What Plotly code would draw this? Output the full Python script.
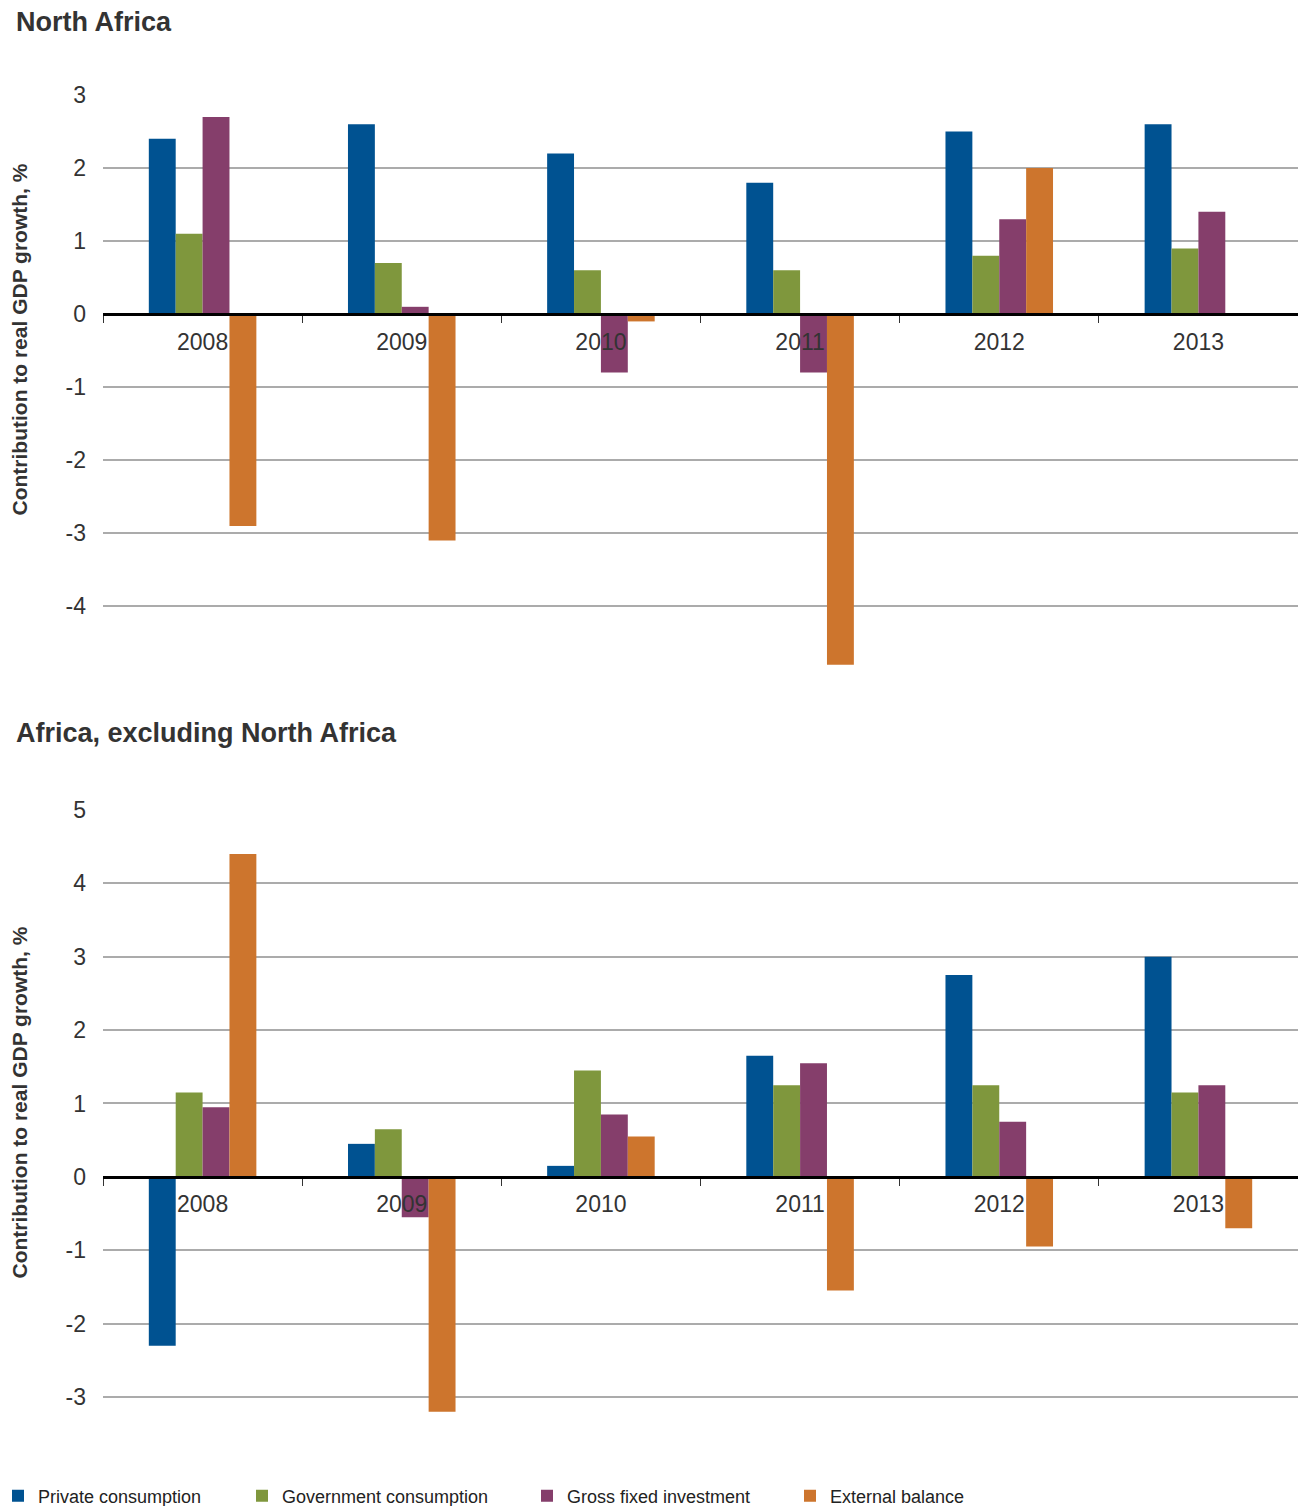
import plotly.graph_objects as go

years = ["2008", "2009", "2010", "2011", "2012", "2013"]
series_names = ["Private consumption", "Government consumption",
                "Gross fixed investment", "External balance"]

# North Africa
na_private = [2.4, 2.6, 2.2, 1.8, 2.5, 2.6]
na_government = [1.1, 0.7, 0.6, 0.6, 0.8, 0.9]
na_investment = [2.7, 0.1, -0.8, -0.8, 1.3, 1.4]
na_external = [-2.9, -3.1, -0.1, -4.8, 2.0, 0.0]

# Africa, excluding North Africa
ss_private = [-2.3, 0.45, 0.15, 1.65, 2.75, 3.0]
ss_government = [1.15, 0.65, 1.45, 1.25, 1.25, 1.15]
ss_investment = [0.95, -0.55, 0.85, 1.55, 0.75, 1.25]
ss_external = [4.4, -3.2, 0.55, -1.55, -0.95, -0.7]

top_ticks = [-4, -3, -2, -1, 0, 1, 2, 3]
bot_ticks = [-3, -2, -1, 0, 1, 2, 3, 4, 5]

colors = ["#005291", "#7f973d", "#853e6b", "#cd752d"]

panel_titles = ["North Africa", "Africa, excluding North Africa"]
y_title = "Contribution to real GDP growth, %"

# page body has an 8px margin, so the figure is drawn 8px in from the corner
OFF = 8
W, H = 1306 - OFF, 1506 - OFF
ML, MT = 103 - OFF, 95 - OFF
MR = W - (1298 - OFF)
MB = H - (1419 - OFF)
PW = W - ML - MR
PH = H - MT - MB


def px_to_py(py):
    return (H - MB - (py - OFF)) / PH


def px_to_px(px):
    return ((px - OFF) - ML) / PW


top_range = [-4.9, 3.0]
bot_range = [-3.3, 5.0]
top_dom = [px_to_py(672), 1.0]
bot_dom = [0.0, px_to_py(810)]


def zero_pos(dom, rng):
    return dom[0] + (0 - rng[0]) / (rng[1] - rng[0]) * (dom[1] - dom[0])


fig = go.Figure()

top_data = [na_private, na_government, na_investment, na_external]
bot_data = [ss_private, ss_government, ss_investment, ss_external]
legend_ids = ["legend", "legend2", "legend3", "legend4"]

for i, (name, vals) in enumerate(zip(series_names, top_data)):
    fig.add_trace(go.Bar(x=years, y=vals, name=name, marker_color=colors[i],
                         marker_line_width=0, xaxis="x", yaxis="y",
                         legend=legend_ids[i], showlegend=True))
for i, (name, vals) in enumerate(zip(series_names, bot_data)):
    fig.add_trace(go.Bar(x=years, y=vals, name=name, marker_color=colors[i],
                         marker_line_width=0, xaxis="x2", yaxis="y2",
                         legend=legend_ids[i], showlegend=False))

font_family = "Liberation Sans, Arial, sans-serif"
tick_font = dict(family=font_family, size=23, color="#333333")

xcommon = dict(type="category", showgrid=False, showline=True, linecolor="#000000",
               linewidth=3, ticks="outside", tickson="boundaries", ticklen=7,
               tickcolor="#333333", tickwidth=1.2, tickfont=tick_font,
               ticklabelstandoff=6, domain=[0, 1], anchor="free", automargin=False)
ycommon = dict(showgrid=True, gridcolor="#ababab", gridwidth=1.5, zeroline=False,
               showline=False, tickfont=tick_font, ticks="", ticklabelstandoff=16,
               automargin=False)

fig.update_layout(
    width=W, height=H,
    margin=dict(l=ML, r=MR, t=MT, b=MB, autoexpand=False),
    paper_bgcolor="white", plot_bgcolor="white",
    barmode="group", bargap=0.46, bargroupgap=0,
    font=dict(family=font_family, color="#333333"),
    xaxis=dict(**xcommon, position=zero_pos(top_dom, top_range)),
    yaxis=dict(**ycommon, domain=top_dom, range=top_range, anchor="x",
               tickvals=top_ticks, ticktext=[str(t) for t in top_ticks]),
    xaxis2=dict(**xcommon, position=zero_pos(bot_dom, bot_range)),
    yaxis2=dict(**ycommon, domain=bot_dom, range=bot_range, anchor="x2",
                tickvals=bot_ticks, ticktext=[str(t) for t in bot_ticks]),
)

legend_px = [14, 258, 543, 806]
for lid, lx in zip(legend_ids, legend_px):
    fig.update_layout({lid: dict(x=px_to_px(lx - 16), y=px_to_py(1496), xanchor="left",
                                 yanchor="middle", orientation="h",
                                 font=dict(family=font_family, size=18, color="#222222"),
                                 bgcolor="rgba(0,0,0,0)", itemwidth=30)})

annotations = [
    dict(text="<b>%s</b>" % panel_titles[0], x=px_to_px(14), y=px_to_py(22),
         xanchor="left", yanchor="middle"),
    dict(text="<b>%s</b>" % panel_titles[1], x=px_to_px(14), y=px_to_py(733),
         xanchor="left", yanchor="middle"),
]
for a in annotations:
    a.update(xref="paper", yref="paper", showarrow=False,
             font=dict(family=font_family, size=27, color="#333333"))

for yc in [340, 1103]:
    annotations.append(dict(text="<b>%s</b>" % y_title, x=px_to_px(5), y=px_to_py(yc),
                            xref="paper", yref="paper", showarrow=False, textangle=-90,
                            xanchor="left", yanchor="middle",
                            font=dict(family=font_family, size=21, color="#333333")))

fig.update_layout(annotations=annotations)

fig.write_html("out.html")
